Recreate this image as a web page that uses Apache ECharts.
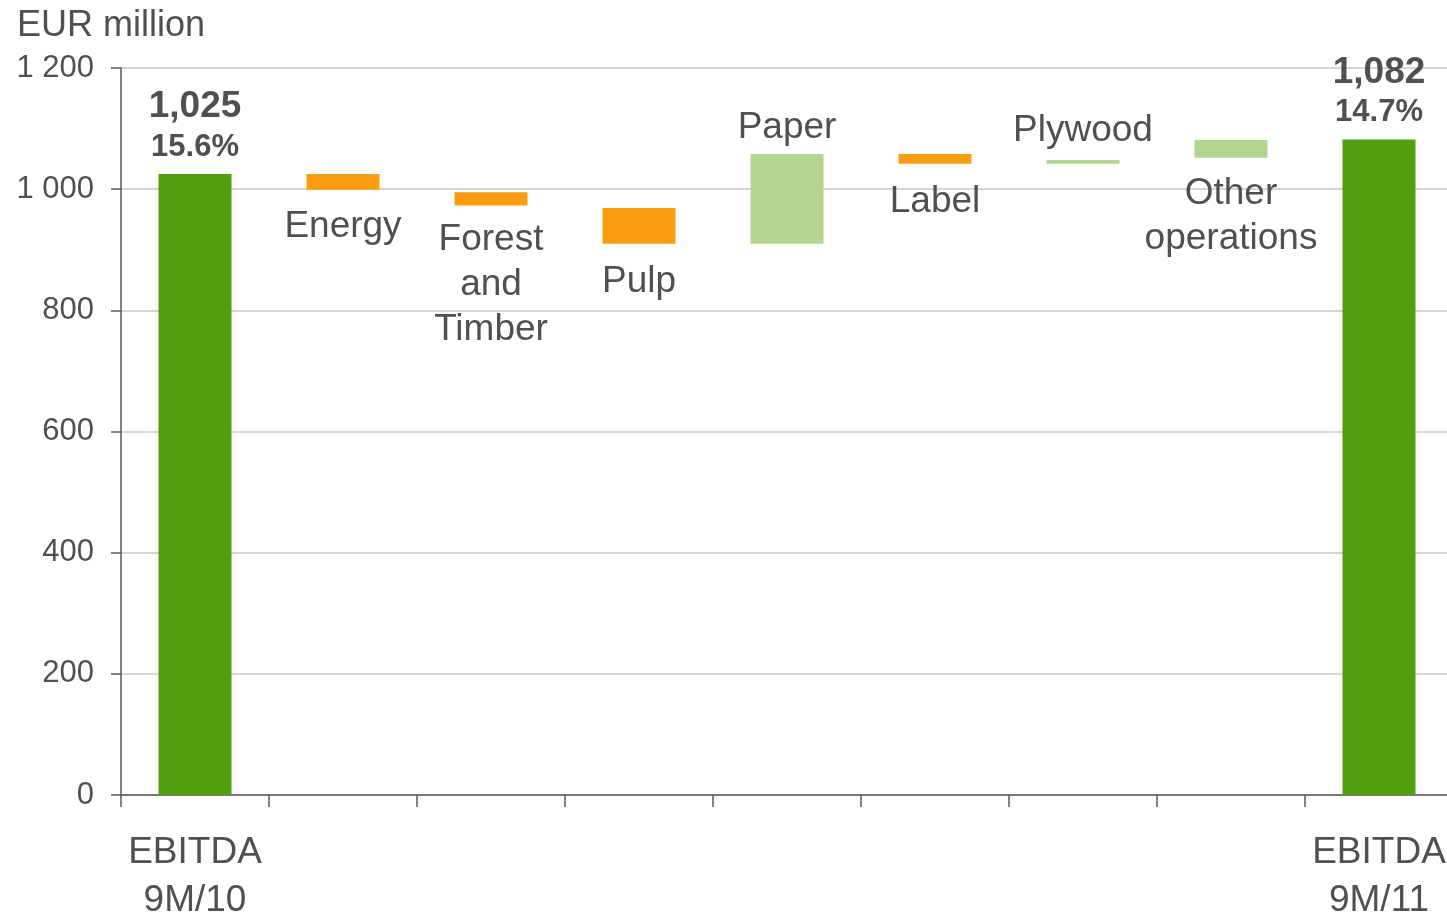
<!DOCTYPE html>
<html>
<head>
<meta charset="utf-8">
<script src="https://cdn.jsdelivr.net/npm/echarts@6/dist/echarts.min.js"></script>
<style>
  html, body { margin: 0; padding: 0; background: #fff; overflow: hidden; }
  #chart { width: 1447px; height: 916px; }
</style>
</head>
<body>
<div id="chart"></div>
<script>
// EBITDA bridge, EUR million
const categories = ['EBITDA\n9M/10', 'Energy', 'Forest\nand\nTimber', 'Pulp', 'Paper', 'Label', 'Plywood', 'Other\noperations', 'EBITDA\n9M/11'];
const barBase   = [0, 999, 973, 910, 910, 1042, 1042, 1052, 0];
const barHeight = [1025, 26, 22, 59, 148, 16, 6, 29, 1082];
const barKind   = ['total', 'decrease', 'decrease', 'decrease', 'increase', 'decrease', 'increase', 'increase', 'total'];
const marginPct = ['15.6%', '', '', '', '', '', '', '', '14.7%'];
const yTicks    = [0, 200, 400, 600, 800, 1000, 1200];

const FONT = '"Liberation Sans", Arial, sans-serif';
const TEXT = '#505050';
const AXIS = '#595959';
const kindColor = { total: '#519e0e', increase: '#b2d591', decrease: '#fb9d10' };
// side and gap of each bar's label
const nameSide = ['top', 'bottom', 'bottom', 'bottom', 'top', 'bottom', 'top', 'bottom', 'top'];
const labelGap = [8, 15, 12, 16, 4, 16, 7, 14, 8];
const lastIdx = categories.length - 1;

const fmtThousands = (v, sep) => String(v).replace(/\B(?=(\d{3})+(?!\d))/g, sep);

const visibleData = barHeight.map((h, i) => {
  const isTotal = barKind[i] === 'total';
  return {
    value: h,
    itemStyle: { color: kindColor[barKind[i]] },
    label: isTotal ? {
      show: true,
      position: 'top',
      distance: labelGap[i],
      formatter: () => '{v|' + fmtThousands(barBase[i] + h, ',') + '}\n{p|' + marginPct[i] + '}',
      rich: {
        v: { fontFamily: FONT, fontSize: 37, fontWeight: 'bold', color: TEXT, lineHeight: 42, align: 'center' },
        p: { fontFamily: FONT, fontSize: 31, fontWeight: 'bold', color: TEXT, lineHeight: 38, align: 'center' }
      }
    } : {
      show: true,
      position: nameSide[i],
      distance: labelGap[i],
      formatter: () => categories[i],
      fontFamily: FONT,
      fontSize: 37,
      lineHeight: 45,
      color: TEXT,
      align: 'center'
    }
  };
});

const chart = echarts.init(document.getElementById('chart'), null, { renderer: 'canvas' });
chart.setOption({
  animation: false,
  backgroundColor: '#fff',
  title: {
    text: 'EUR million',
    left: 12,
    top: 3,
    textStyle: { fontFamily: FONT, fontSize: 36, fontWeight: 'normal', color: TEXT }
  },
  grid: { left: 121, top: 68, width: 1332, height: 727, containLabel: false, outerBoundsMode: 'none' },
  xAxis: {
    type: 'category',
    data: categories,
    boundaryGap: true,
    axisLine: { show: true, lineStyle: { color: AXIS, width: 1.5 } },
    axisTick: { show: true, interval: 0, length: 12, lineStyle: { color: AXIS, width: 1.5 } },
    axisLabel: {
      interval: 0,
      margin: 34,
      fontFamily: FONT,
      fontSize: 37,
      lineHeight: 48,
      color: TEXT,
      formatter: (v, i) => (i === 0 || i === lastIdx) ? v : ''
    },
    splitLine: { show: false }
  },
  yAxis: {
    type: 'value',
    min: yTicks[0],
    max: yTicks[yTicks.length - 1],
    interval: yTicks[1] - yTicks[0],
    axisLine: { show: true, lineStyle: { color: AXIS, width: 1.5 } },
    axisTick: { show: true, length: 10, lineStyle: { color: AXIS, width: 1.5 } },
    axisLabel: {
      margin: 27,
      fontFamily: FONT,
      fontSize: 31,
      color: TEXT,
      formatter: v => fmtThousands(v, ' ')
    },
    splitLine: { show: true, lineStyle: { color: '#c8c8c8', width: 1.5 } }
  },
  series: [
    {
      name: 'base',
      type: 'bar',
      stack: 'bridge',
      barWidth: 73,
      silent: true,
      itemStyle: { color: 'rgba(0,0,0,0)' },
      emphasis: { disabled: true },
      data: barBase
    },
    {
      name: 'change',
      type: 'bar',
      stack: 'bridge',
      barWidth: 73,
      emphasis: { disabled: true },
      data: visibleData
    }
  ]
});
</script>
</body>
</html>
